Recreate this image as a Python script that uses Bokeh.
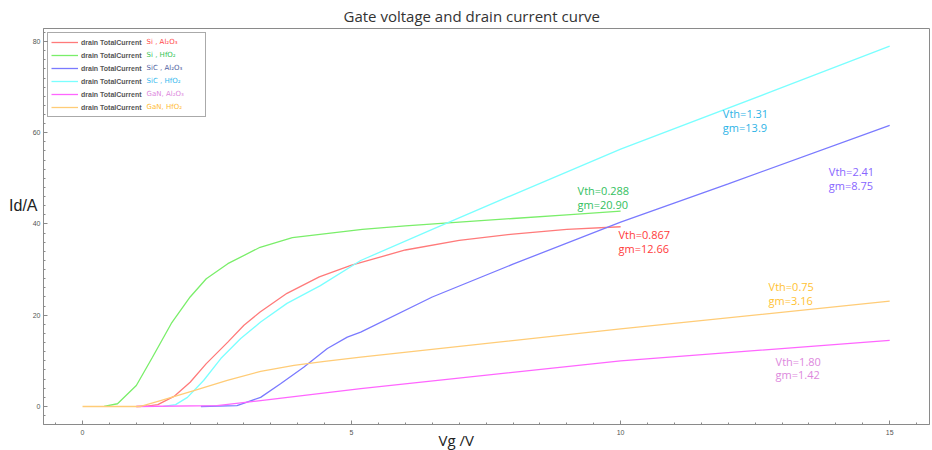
from bokeh.plotting import figure
from bokeh.models import (ColumnDataSource, Range1d, SingleIntervalTicker, FixedTicker,
                          Legend, LegendItem, Title, LinearAxis)
from bokeh.core.properties import value
from bokeh.embed import file_html
from bokeh.resources import INLINE

# ---------------- data ----------------
si_al_x = [1.0, 1.2, 1.4, 1.7, 2.0, 2.3, 2.7, 3.0, 3.3, 3.8, 4.4, 5.0, 6.0, 7.0, 8.0, 9.0, 10.0]
si_al_y = [0.0, 0.1, 0.4, 2.2, 5.3, 9.4, 14.1, 17.8, 20.7, 24.8, 28.4, 31.0, 34.3, 36.4, 37.8, 38.8, 39.4]

si_hf_x = [0.4, 0.65, 1.0, 1.3, 1.65, 2.0, 2.3, 2.7, 3.3, 3.9, 5.2, 6.0, 7.0, 8.0, 9.0, 10.0]
si_hf_y = [0.0, 0.6, 4.6, 10.8, 18.2, 24.0, 28.0, 31.3, 34.9, 37.0, 38.8, 39.6, 40.4, 41.2, 42.0, 42.8]

sic_al_x = [2.2, 2.87, 3.31, 3.68, 4.11, 4.55, 4.92, 5.17, 6.5, 8.0, 10.0, 12.0, 15.0]
sic_al_y = [0.0, 0.2, 2.0, 5.0, 8.6, 12.7, 15.2, 16.3, 24.0, 31.2, 40.4, 48.8, 61.6]

sic_hf_x = [1.5, 1.73, 1.95, 2.25, 2.57, 2.94, 3.31, 3.8, 4.42, 5.17, 6.5, 8.0, 10.0, 12.8, 15.0]
sic_hf_y = [0.0, 0.4, 2.0, 5.7, 10.5, 14.9, 18.5, 22.6, 26.5, 32.0, 38.8, 46.4, 56.4, 69.0, 79.0]

gan_al_x = [1.0, 2.5, 3.31, 5.17, 10.0, 15.0]
gan_al_y = [0.0, 0.2, 1.3, 3.9, 10.0, 14.5]

gan_hf_x = [0.0, 1.08, 1.45, 2.07, 2.69, 3.31, 3.93, 4.5, 5.17, 10.0, 15.0]
gan_hf_y = [0.0, 0.0, 1.3, 3.5, 5.7, 7.7, 9.0, 9.9, 10.8, 17.0, 23.1]

legend_prefix = "drain TotalCurrent"
legend_suffix = ["Si , Al\u2082O\u2083", "Si , HfO\u2082", "SiC , Al\u2082O\u2083",
                 "SiC , HfO\u2082", "GaN, Al\u2082O\u2083", "GaN, HfO\u2082"]

ann_x = [11.9, 13.87, 9.2, 9.96, 12.75, 12.88]
ann_y = [65.8, 53.1, 48.9, 39.3, 27.9, 11.6]
ann_text = ["Vth=1.31\ngm=13.9", "Vth=2.41\ngm=8.75", "Vth=0.288\ngm=20.90",
            "Vth=0.867\ngm=12.66", "Vth=0.75\ngm=3.16", "Vth=1.80\ngm=1.42"]

title_text = "Gate voltage and drain current curve"
x_label = "Vg /V"
y_label = "Id/A"
y_label_at = 44

# ---------------- styles ----------------
line_colors = ["#ff7a7a", "#7aee6a", "#7a7aff", "#7affff", "#ff66ff", "#ffcc77"]
suffix_colors = ["#ff4848", "#33c455", "#4f5f9f", "#33b8ee", "#dd88dd", "#ffbb33"]
ann_colors = ["#2db3e6", "#8866ff", "#33c060", "#ff3b3b", "#ffc233", "#dd88dd"]

p = figure(width=930, height=450, output_backend="svg", toolbar_location=None,
           x_range=Range1d(-0.725, 15.74), y_range=Range1d(-3.95, 82.85),
           min_border_left=43, min_border_right=1, min_border_top=28, min_border_bottom=26)
p.grid.visible = False
p.outline_line_color = "#8a8a8a"
p.outline_line_width = 1
p.background_fill_color = "white"
p.border_fill_color = "white"

p.title.text = title_text
p.title.align = "left"
p.title.offset = 300
p.title.standoff = 6
p.title.vertical_align = "bottom"
p.title.text_font = "Open Sans"
p.title.text_font_size = "15px"
p.title.text_font_style = "normal"
p.title.text_color = "#333333"

for ax in (p.xaxis[0], p.yaxis[0]):
    ax.axis_line_color = "#8a8a8a"
    ax.major_tick_line_color = "#8a8a8a"
    ax.minor_tick_line_color = "#8a8a8a"
    ax.major_tick_in = 4
    ax.major_tick_out = 0
    ax.minor_tick_in = 2
    ax.minor_tick_out = 0
    ax.major_label_text_font = "Liberation Sans"
    ax.major_label_text_font_size = "7px"
    ax.major_label_text_color = "#555555"

p.xaxis[0].ticker = SingleIntervalTicker(interval=5, num_minor_ticks=10)
p.yaxis[0].ticker = SingleIntervalTicker(interval=20, num_minor_ticks=10)
p.xaxis[0].major_label_standoff = 5
p.yaxis[0].major_label_standoff = 3

# horizontal "Id/A" label on the left side
lab_axis = LinearAxis(ticker=FixedTicker(ticks=[y_label_at], minor_ticks=[]),
                      major_label_overrides={y_label_at: y_label},
                      axis_line_color=None, major_tick_line_color=None,
                      minor_tick_line_color=None, major_tick_in=0, major_tick_out=0,
                      minor_tick_in=0, minor_tick_out=0, major_label_standoff=-8,
                      major_label_text_font="Liberation Sans",
                      major_label_text_font_size="16px",
                      major_label_text_color="#222222")
p.add_layout(lab_axis, "left")

# "Vg /V" under the x axis
p.add_layout(Title(text=x_label, align="left", offset=395, standoff=-16,
                   vertical_align="top",
                   text_font="Open Sans", text_font_size="15px",
                   text_font_style="normal", text_color="#222222"), "below")

series = [(si_al_x, si_al_y), (si_hf_x, si_hf_y), (sic_al_x, sic_al_y),
          (sic_hf_x, sic_hf_y), (gan_al_x, gan_al_y), (gan_hf_x, gan_hf_y)]
renderers = []
for (xs, ys), c in zip(series, line_colors):
    r = p.line(x=xs, y=ys, line_color=c, line_width=1.3)
    renderers.append(r)

legend = Legend(items=[LegendItem(label=legend_prefix, renderers=[r]) for r in renderers],
                location="top_left", margin=4, padding=3, spacing=1,
                label_height=12, glyph_height=12, glyph_width=27, label_standoff=3,
                label_width=121, label_text_font="Liberation Sans",
                label_text_font_size="7px", label_text_font_style="bold",
                label_text_color="#555555", border_line_color="#555555",
                border_line_width=1, background_fill_alpha=0.0)
p.add_layout(legend)

# coloured suffixes of the legend labels
leg_x = 1.19
leg_y = [80.0, 77.15, 74.3, 71.45, 68.6, 65.75]
p.text(x=[leg_x] * len(legend_suffix), y=leg_y, text=legend_suffix, text_color=suffix_colors,
       text_font=value("DejaVu Sans"), text_font_size="7px",
       text_baseline="middle", text_align="left")

src = ColumnDataSource(dict(x=ann_x, y=ann_y, t=ann_text, c=ann_colors))
p.text(x="x", y="y", text="t", text_color="c", source=src,
       text_font=value("Open Sans"), text_font_size="11px",
       text_baseline="top", text_align="left", text_line_height=0.9)

open("out.html", "w").write(file_html(p, INLINE))
